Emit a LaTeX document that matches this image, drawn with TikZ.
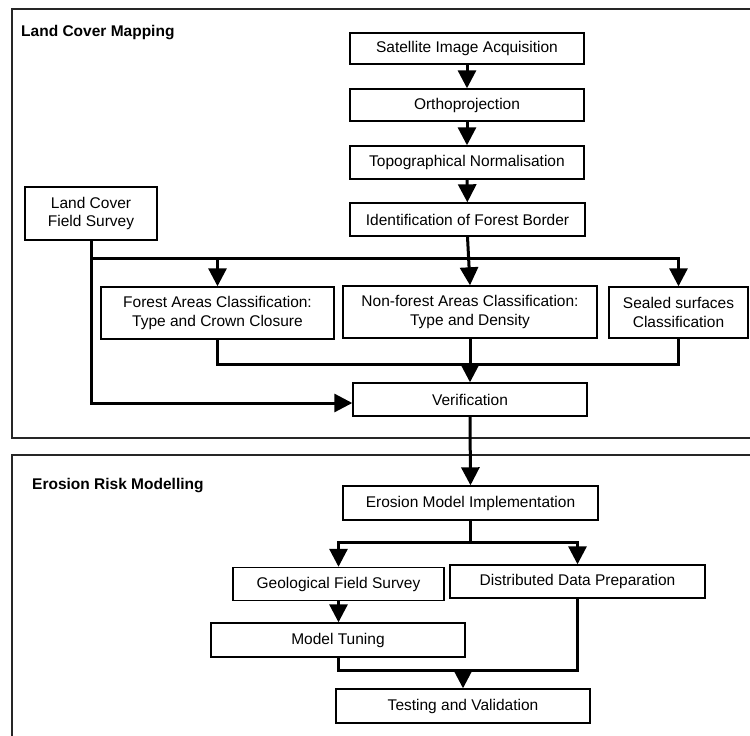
\documentclass[tikz,border=0pt]{standalone}
\usepackage{fontspec}
\setmainfont{Liberation Sans}
\usetikzlibrary{arrows.meta}
\begin{document}
\begin{tikzpicture}[x=1pt,y=-1pt,
  box/.style={draw=black,line width=1.4pt,inner sep=0pt,align=center,
    font=\fontsize{15.5}{18.5}\selectfont},
  panel/.style={draw=black!85,line width=1.4pt},
  ptitle/.style={anchor=west,inner sep=0pt,font=\fontsize{15.5}{18}\selectfont\bfseries},
  conn/.style={line width=3pt},
  arr/.style={line width=3pt,-{Triangle[width=18pt,length=18pt]}}]
\useasboundingbox (0,0) rectangle (750,736);
\clip (0,0) rectangle (750,736);
% panels
\draw[panel] (12,9) rectangle (770,438);
\draw[panel] (12,455) rectangle (770,760);
\node[ptitle] (t1) at (21,33) {Land Cover Mapping};
\node[ptitle] (t2) at (32,486) {Erosion Risk Modelling};
% top boxes
\node[box,minimum width=234pt,minimum height=31pt] (sat) at (467,48.5) {Satellite Image Acquisition};
\node[box,minimum width=234pt,minimum height=32pt] (orth) at (467,105) {Orthoprojection};
\node[box,minimum width=234pt,minimum height=33pt] (topo) at (467,162.5) {Topographical Normalisation};
\node[box,minimum width=235pt,minimum height=33pt] (iden) at (467.5,219.5) {Identification of Forest Border};
\node[box,minimum width=132pt,minimum height=53pt] (fs) at (91,213.5) {Land Cover\\Field Survey};
\node[box,minimum width=233pt,minimum height=52pt] (forest) at (217.5,313) {Forest Areas Classification:\\Type and Crown Closure};
\node[box,minimum width=254pt,minimum height=52pt] (nonf) at (470,312) {Non-forest Areas Classification:\\Type and Density};
\node[box,minimum width=139pt,minimum height=51pt] (seal) at (678.5,312.5) {Sealed surfaces\\Classification};
\node[box,minimum width=234pt,minimum height=33pt] (ver) at (470,399.5) {Verification};
% bottom boxes
\node[box,minimum width=255pt,minimum height=34pt] (ero) at (470.5,503) {Erosion Model Implementation};
\node[box,minimum width=211pt,minimum height=33pt] (geo) at (338.5,584) {Geological Field Survey};
\node[box,minimum width=255pt,minimum height=33pt] (dist) at (577.5,581.5) {Distributed Data Preparation};
\node[box,minimum width=254pt,minimum height=34pt] (mt) at (338,640) {Model Tuning};
\node[box,minimum width=254pt,minimum height=34pt] (test) at (463,706) {Testing and Validation};
% helper coordinates
\coordinate (h1) at (91,258);
\coordinate (h2) at (470,364);
\coordinate (h3) at (472,542);
\coordinate (h4) at (463,670);
\coordinate (vin) at ([shift={(0,3.5)}]ver.west);
% top connectors
\draw[arr] (sat) -- (orth);
\draw[arr] (orth) -- (topo);
\draw[arr] (topo) -- (iden);
\draw[arr] (iden.south) -- (nonf.north);
\draw[arr] (h1) -- (h1 -| seal.north) -- (seal.north);
\draw[arr] (h1 -| forest.north) -- (forest.north);
\draw[arr] (fs.south) |- (vin);
\draw[conn] (forest.south) |- (seal.south |- h2) -- (seal.south);
\draw[arr] (nonf.south) -- (ver.north);
\draw[arr] (ver.south) -- (ero.north);
% bottom connectors
\draw[conn] (ero.south) -- (ero.south |- h3);
\draw[arr] (ero.south |- h3) -| (geo.north);
\draw[arr] (ero.south |- h3) -| (dist.north);
\draw[arr] (geo.south) -- (geo.south |- mt.north);
\draw[conn] (mt.south) |- (dist.south |- h4) -- (dist.south);
\draw[arr] (test.north |- h4) -- (test.north);
\end{tikzpicture}
\end{document}
